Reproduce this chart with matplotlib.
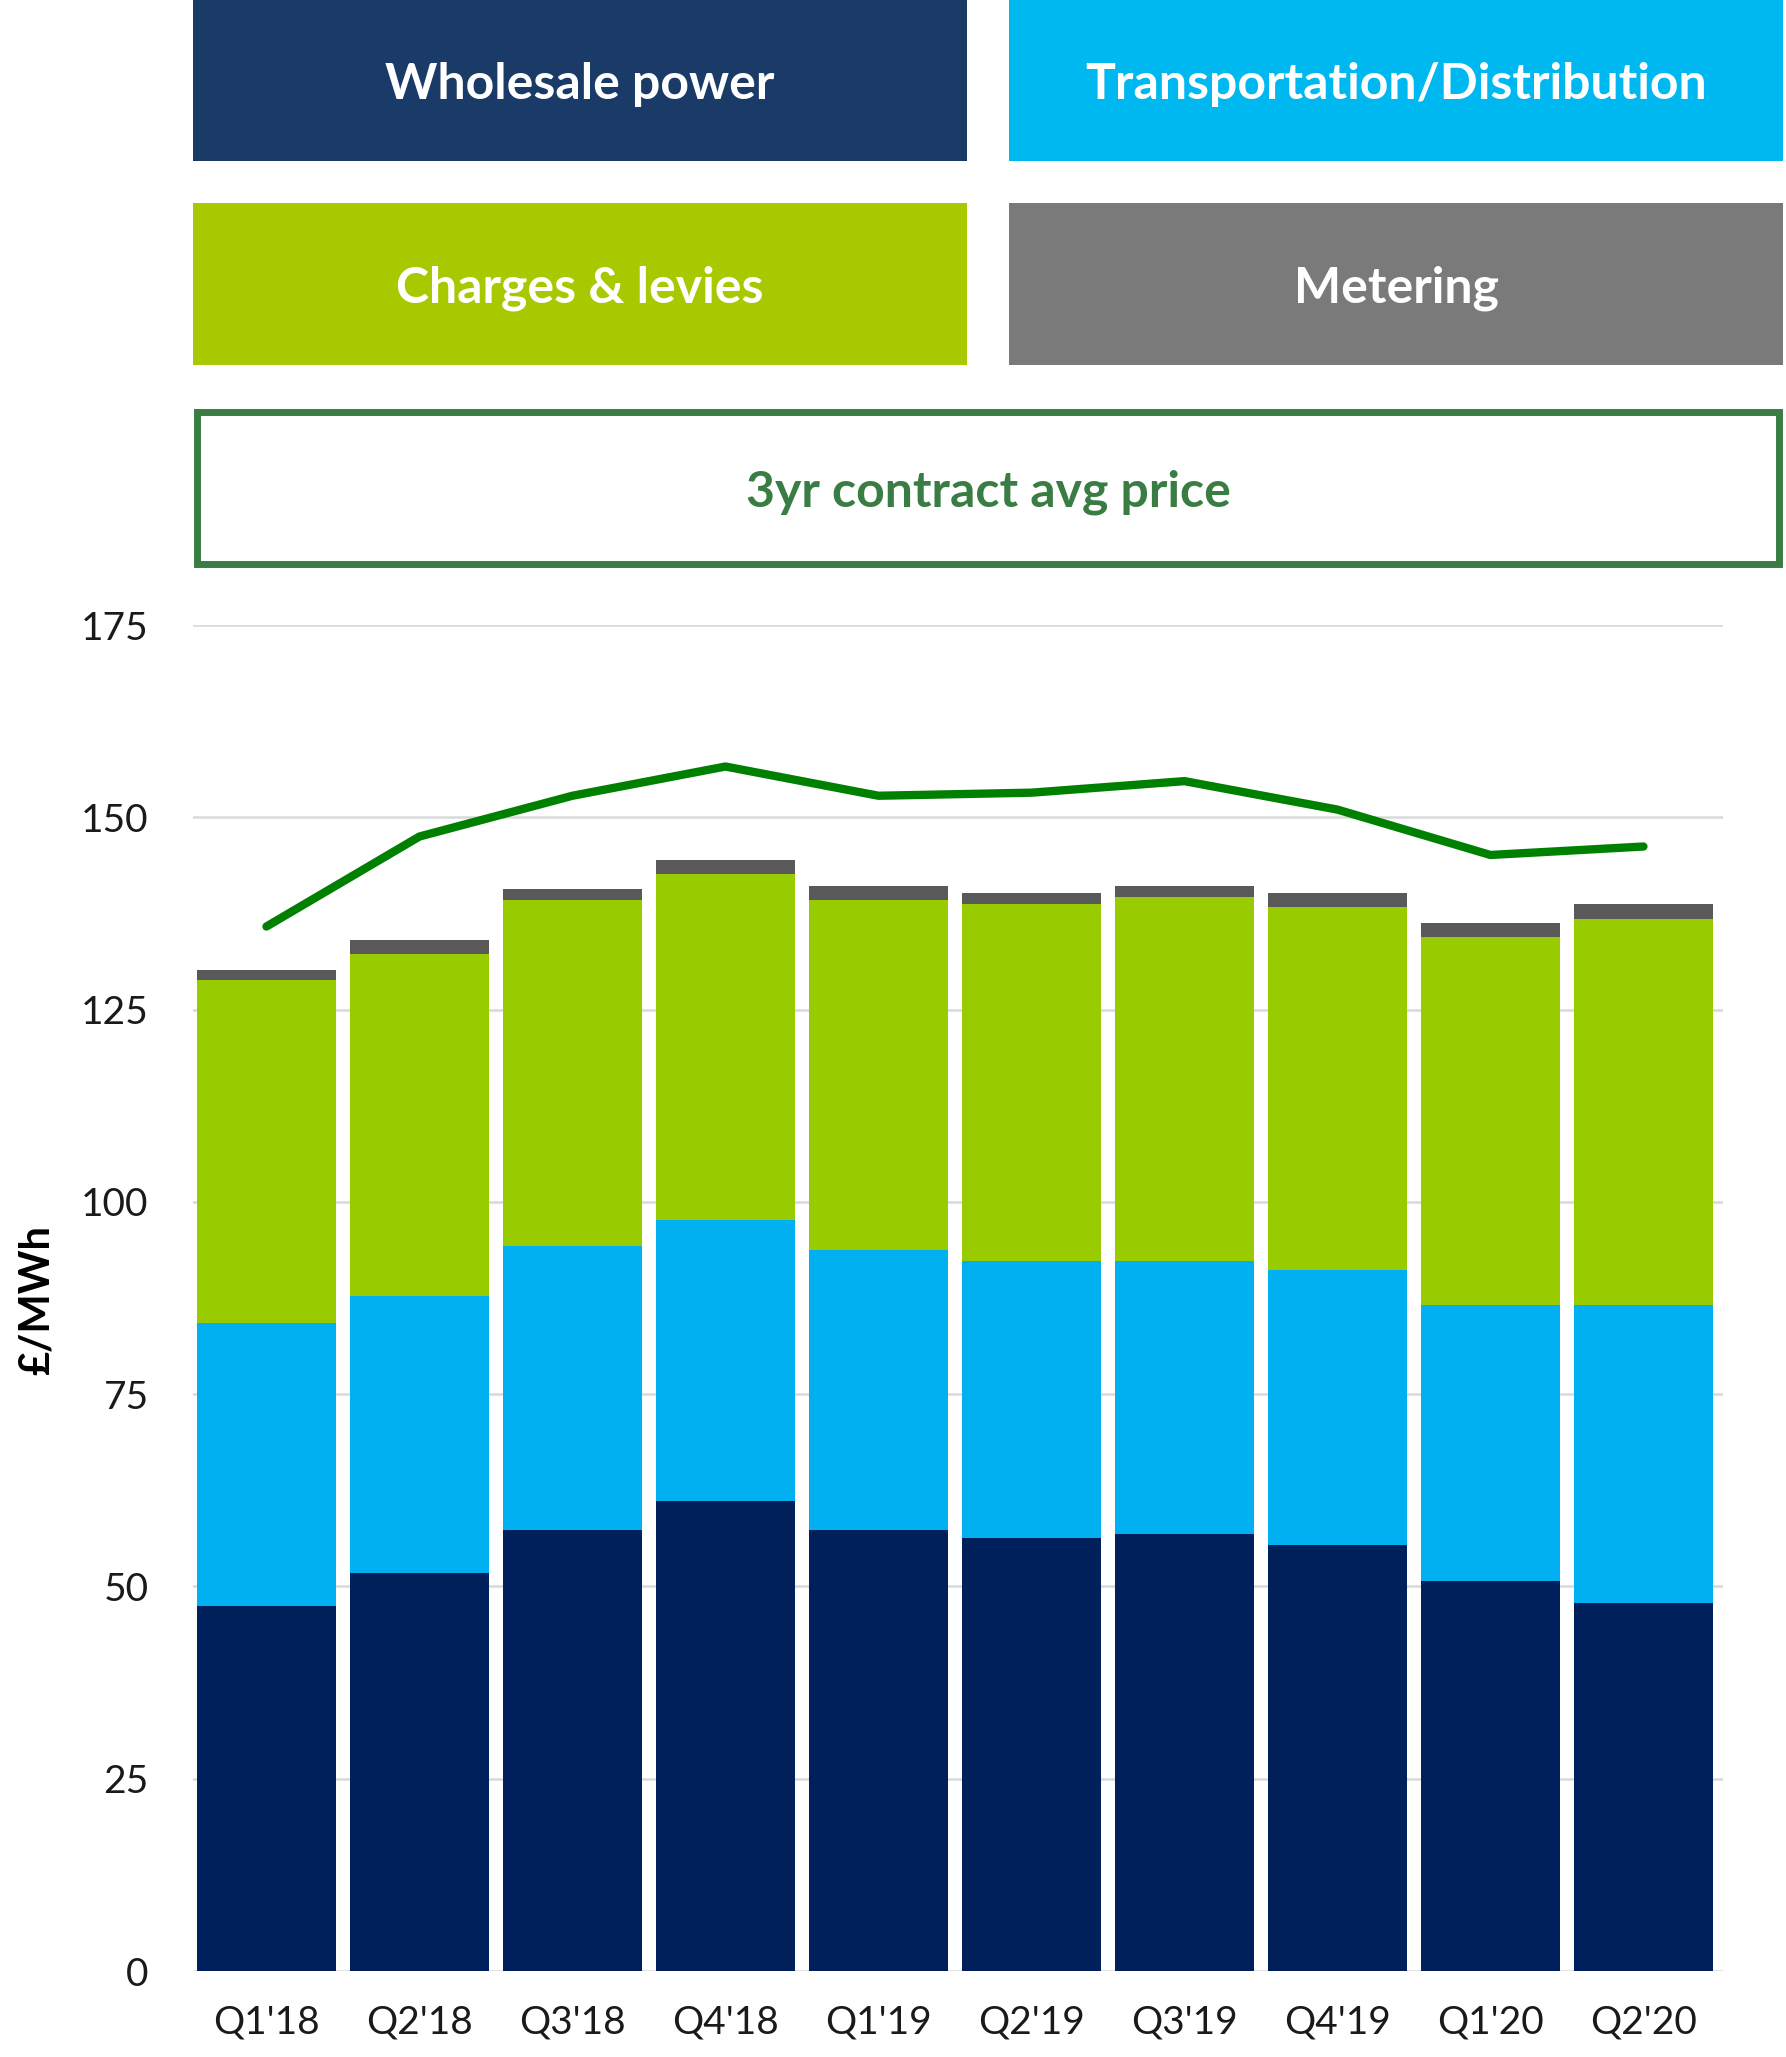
import matplotlib.pyplot as plt
from matplotlib.patches import Rectangle

# 분기별 데이터 (£/MWh)
quarters = ["Q1'18", "Q2'18", "Q3'18", "Q4'18", "Q1'19", "Q2'19", "Q3'19", "Q4'19", "Q1'20", "Q2'20"]
wholesale = [47.4, 51.7, 57.3, 61.1, 57.3, 56.3, 56.8, 55.4, 50.7, 47.9]
transport = [36.9, 36.0, 37.0, 36.5, 36.5, 36.0, 35.5, 35.7, 35.9, 38.7]
charges = [44.5, 44.5, 44.9, 45.0, 45.4, 46.4, 47.4, 47.2, 47.8, 50.2]
metering = [1.3, 1.9, 1.5, 1.9, 1.9, 1.5, 1.4, 1.9, 1.9, 1.9]
avg_price = [135.8, 147.5, 152.8, 156.6, 152.8, 153.2, 154.7, 151.0, 145.1, 146.2]

W, H = 1786, 2057
fig = plt.figure(figsize=(W / 100, H / 100), dpi=100)
plt.rcParams['font.family'] = ['Lato', 'DejaVu Sans']

# 축 위치 (픽셀 -> 그림 좌표)
ax = fig.add_axes([193 / W, 1 - 1971 / H, (1723 - 193) / W, (1971 - 625) / H])

x = range(len(quarters))
bw = 0.91
b1 = wholesale
b2 = [a + b for a, b in zip(b1, transport)]
b3 = [a + b for a, b in zip(b2, charges)]
ax.bar(x, wholesale, bw, color='#00205b', zorder=2)
ax.bar(x, transport, bw, bottom=b1, color='#00b0f0', zorder=2)
ax.bar(x, charges, bw, bottom=b2, color='#99cc00', zorder=2)
ax.bar(x, metering, bw, bottom=b3, color='#595959', zorder=2)
ax.plot(x, avg_price, color='#008000', lw=6, solid_capstyle='round', zorder=3)

ax.set_ylim(0, 175)
ax.set_xlim(-0.48, 9.52)
ax.set_yticks(range(0, 176, 25))
ax.set_xticks(list(x))
ax.set_xticklabels(quarters)
ax.grid(axis='y', color='#d9d9d9', lw=1.8, zorder=0)
for s in ax.spines.values():
    s.set_visible(False)
ax.tick_params(length=0, labelsize=28, colors='#1a1a1a')
ax.tick_params(axis='y', pad=32)
ax.tick_params(axis='x', pad=24)
fig.text(37 / W, 1 - 1300 / H, '£/MWh', rotation=90, ha='center', va='center',
         fontsize=30, fontweight='bold')

# 범례 상자
def box(x0, y0, x1, y1, fc, label, tc='white', ec=None):
    r = Rectangle((x0 / W, 1 - y1 / H), (x1 - x0) / W, (y1 - y0) / H,
                  transform=fig.transFigure, facecolor=fc,
                  edgecolor=ec if ec else 'none', lw=5 if ec else 0)
    fig.patches.append(r)
    fig.text((x0 + x1) / 2 / W, 1 - ((y0 + y1) / 2 + 4) / H, label, ha='center', va='center',
             color=tc, fontsize=36, fontweight='bold')

box(193, 0, 967, 161, '#1a3a68', 'Wholesale power')
box(1009, 0, 1783, 161, '#00b8f0', 'Transportation/Distribution')
box(193, 203, 967, 365, '#a8c800', 'Charges & levies')
box(1009, 203, 1783, 365, '#7a7a7a', 'Metering')
box(197, 412, 1779, 564, 'white', '3yr contract avg price', tc='#3a7d44', ec='#3a7d44')

plt.savefig('out.png', dpi=100)
